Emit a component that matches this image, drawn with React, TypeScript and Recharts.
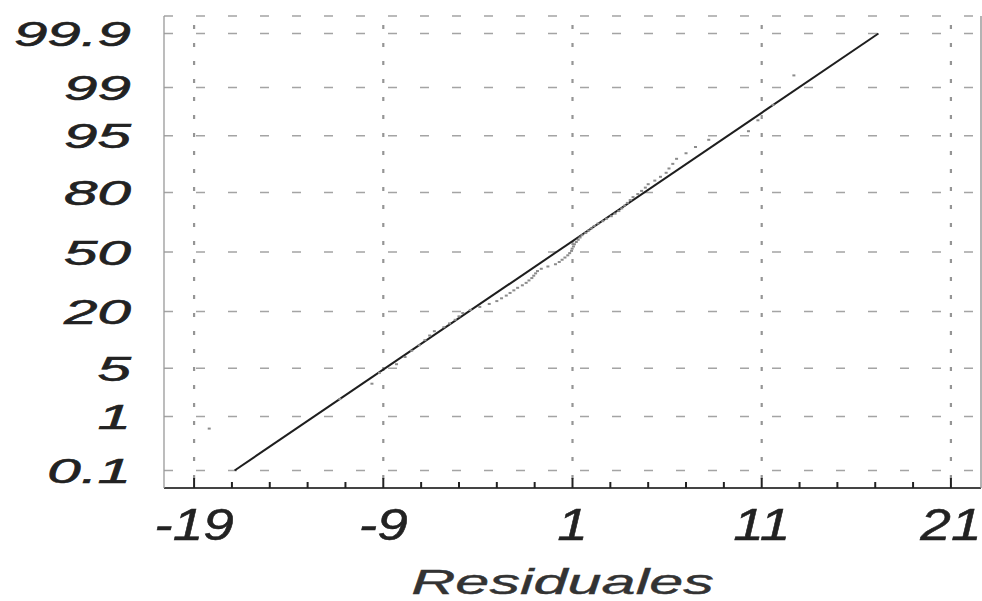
import React from "react";
import { ComposedChart, Scatter, Line, XAxis, YAxis, CartesianGrid, ReferenceLine } from "recharts";

// Sorted model residuals (normal probability plot)
const residuals = [
  -18.2, -11.3, -9.6, -9.2, -8.3, -7.85, -7.5, -7.1, -6.8, -6.55,
  -6.3, -5.8, -5.5, -5.2, -5.0, -4.8, -4.4, -3.9, -3.4, -3.0,
  -2.75, -2.5, -2.3, -2.1, -1.9, -1.65, -1.45, -1.3, -1.15, -1.05,
  -0.95, -0.85, -0.65, -0.3, 0.1, 0.3, 0.45, 0.6, 0.75, 0.85,
  0.95, 0.98, 1.05, 1.1, 1.2, 1.3, 1.4, 1.5, 1.7, 1.85,
  2.0, 2.15, 2.35, 2.6, 2.8, 3.05, 3.25, 3.45, 3.6, 3.75,
  3.9, 4.05, 4.2, 4.45, 4.65, 4.85, 5.0, 5.35, 5.65, 5.95,
  6.1, 6.3, 6.5, 7.0, 7.5, 8.2, 10.3, 10.8, 11.6, 12.7,
];

// Reference normal line, given by its end points (residual, cumulative %)
const fitResiduals = [-16.86, 17.17];
const fitPercents = [0.1, 99.9];

// Probability axis
const probTicks = [0.1, 1, 5, 20, 50, 80, 95, 99, 99.9];
const probLabels = ["0.1", "1", "5", "20", "50", "80", "95", "99", "99.9"];

// Residual axis
const xMajorTicks = [-19, -9, 1, 11, 21];
const xMajorLabels = ["-19", "-9", "1", "11", "21"];
const xAllTicks = [-19, -17, -15, -13, -11, -9, -7, -5, -3, -1, 1, 3, 5, 7, 9, 11, 13, 15, 17, 19, 21];

const X_DOMAIN: [number, number] = [-20.59, 22.59];
const Z_DOMAIN: [number, number] = [-3.338, 3.338];

// Inverse standard normal CDF (Acklam's rational approximation)
function normInv(p: number): number {
  const a = [-3.969683028665376e1, 2.209460984245205e2, -2.759285104469687e2, 1.38357751867269e2, -3.066479806614716e1, 2.506628277459239];
  const b = [-5.447609879822406e1, 1.615858368580409e2, -1.556989798598866e2, 6.680131188771972e1, -1.328068155288572e1];
  const c = [-7.784894002430293e-3, -3.223964580411365e-1, -2.400758277161838, -2.549732539343734, 4.374664141464968, 2.938163982698783];
  const d = [7.784695709041462e-3, 3.224671290700398e-1, 2.445134137142996, 3.754408661907416];
  const pl = 0.02425;
  if (p < pl) {
    const q = Math.sqrt(-2 * Math.log(p));
    return (((((c[0] * q + c[1]) * q + c[2]) * q + c[3]) * q + c[4]) * q + c[5]) / ((((d[0] * q + d[1]) * q + d[2]) * q + d[3]) * q + 1);
  }
  if (p <= 1 - pl) {
    const q = p - 0.5;
    const r = q * q;
    return ((((((a[0] * r + a[1]) * r + a[2]) * r + a[3]) * r + a[4]) * r + a[5]) * q) / (((((b[0] * r + b[1]) * r + b[2]) * r + b[3]) * r + b[4]) * r + 1);
  }
  const q = Math.sqrt(-2 * Math.log(1 - p));
  return -(((((c[0] * q + c[1]) * q + c[2]) * q + c[3]) * q + c[4]) * q + c[5]) / ((((d[0] * q + d[1]) * q + d[2]) * q + d[3]) * q + 1);
}

const n = residuals.length;
const points = residuals.map((r, i) => ({ r, z: normInv((i + 0.5) / n) }));
const fitLine = fitResiduals.map((r, i) => ({ r, z: normInv(fitPercents[i] / 100) }));
const zTicks = probTicks.map((p) => normInv(p / 100));

const FONT = "'Liberation Sans', Arial, Helvetica, sans-serif";

const XTick = (props: any) => {
  const { x, y, payload } = props;
  const idx = xMajorTicks.indexOf(payload.value);
  const major = idx >= 0;
  return (
    <g>
      <line x1={x} y1={y} x2={x} y2={y - (major ? 10 : 6)} stroke="#222" strokeWidth={2} />
      {major && (
        <text
          transform={`translate(${x},${y + 52}) scale(1.25,1)`}
          textAnchor="middle"
          fontFamily={FONT}
          fontStyle="italic"
          fontSize={44}
          fill="#222"
          stroke="#222"
          strokeWidth={0.5}
        >
          {xMajorLabels[idx]}
        </text>
      )}
    </g>
  );
};

const YTick = (props: any) => {
  const { x, y, index } = props;
  return (
    <text
      transform={`translate(${x - 33},${y}) scale(1.72,1)`}
      textAnchor="end"
      dy="0.36em"
      fontFamily={FONT}
      fontStyle="italic"
      fontSize={35}
      fill="#222"
      stroke="#222"
      strokeWidth={0.6}
    >
      {probLabels[index]}
    </text>
  );
};

const AxisTitle = (props: any) => {
  const vb = props.viewBox || {};
  const cx = vb.x + vb.width / 2 - 10;
  return (
    <text
      transform={`translate(${cx},${vb.y + 106}) scale(1.7,1)`}
      textAnchor="middle"
      fontFamily={FONT}
      fontStyle="italic"
      fontSize={36}
      fill="#333"
      stroke="#333"
      strokeWidth={0.4}
    >
      Residuales
    </text>
  );
};

const Dot = (props: any) => {
  const { cx, cy } = props;
  return <rect x={cx - 1.5} y={cy - 1} width={3} height={2} fill="#8c8c8c" />;
};

export default function App() {
  return (
    <div style={{ position: "absolute", left: 0, top: 0, background: "#fff" }}>
      <ComposedChart width={982} height={601} margin={{ top: 16, right: 0, bottom: 0, left: 0 }}>
        <CartesianGrid horizontal vertical={false} stroke="#a4a4a4" strokeWidth={1.6} strokeDasharray="9 23" />
        {xMajorTicks.map((v) => (
          <ReferenceLine
            key={v}
            x={v}
            stroke="#959595"
            strokeWidth={2.2}
            strokeDasharray="4 14"
            strokeDashoffset={-9}
          />
        ))}
        <XAxis
          dataKey="r"
          type="number"
          domain={X_DOMAIN}
          allowDataOverflow
          ticks={xAllTicks}
          interval={0}
          height={113}
          tickSize={0}
          tickMargin={0}
          tickLine={false}
          axisLine={{ stroke: "#444", strokeWidth: 1.8 }}
          tick={(p: any) => <XTick {...p} />}
          label={{ content: (p: any) => <AxisTitle {...p} /> }}
        />
        <XAxis
          xAxisId="top"
          orientation="top"
          type="number"
          domain={X_DOMAIN}
          allowDataOverflow
          height={0}
          tick={false}
          tickLine={false}
          axisLine={{ stroke: "#8a8a8a", strokeWidth: 1.3 }}
        />
        <YAxis
          dataKey="z"
          type="number"
          domain={Z_DOMAIN}
          allowDataOverflow
          ticks={zTicks}
          interval={0}
          width={164}
          tickSize={0}
          tickMargin={0}
          tickLine={false}
          axisLine={{ stroke: "#999", strokeWidth: 1.3 }}
          tick={(p: any) => <YTick {...p} />}
        />
        <YAxis
          yAxisId="right"
          orientation="right"
          type="number"
          domain={Z_DOMAIN}
          allowDataOverflow
          width={1}
          tick={false}
          tickLine={false}
          axisLine={{ stroke: "#8a8a8a", strokeWidth: 1.3 }}
        />
        <Scatter data={points} dataKey="z" shape={(p: any) => <Dot {...p} />} isAnimationActive={false} />
        <Line data={fitLine} dataKey="z" type="linear" stroke="#1e1e1e" strokeWidth={2} dot={false} activeDot={false} isAnimationActive={false} />
      </ComposedChart>
    </div>
  );
}
